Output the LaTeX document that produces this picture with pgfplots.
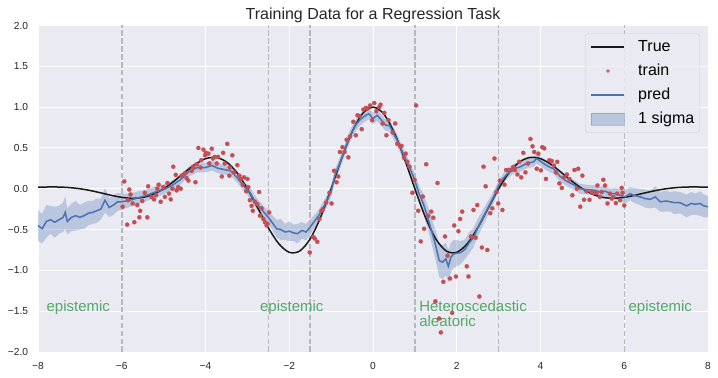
\documentclass[border=0pt]{standalone}
\usepackage{fontspec}
\setmainfont{Liberation Sans}
\usepackage{pgfplots}
\usepackage{pgfplotstable}
\pgfplotsset{compat=1.18}
\usepgfplotslibrary{fillbetween}
\definecolor{sbblue}{HTML}{4C72B0}
\definecolor{sbred}{HTML}{C44E52}
\definecolor{sbgreen}{HTML}{55A868}
\definecolor{sbbg}{HTML}{EAEAF2}
\definecolor{dashgray}{HTML}{B8B8BC}

\pgfplotsset{
  legline/.style={legend image code/.code={\path[draw=none,fill=none] (0bp,-6bp) rectangle (33bp,6bp); \draw[##1] (0bp,0bp) -- (33bp,0bp);}},
  legdot/.style={legend image code/.code={\path[draw=none,fill=none] (0bp,-6bp) rectangle (33bp,6bp); \draw[##1] plot coordinates {(16.5bp,0bp)};}},
  legbox/.style={legend image code/.code={\path[draw=none,fill=none] (0bp,-6bp) rectangle (33bp,6bp); \draw[##1, sharp corners] (0bp,-6.2bp) rectangle (33bp,6.2bp);}},
}

\pgfplotstableread{
x y lo hi
-8.0 -0.45 -0.64 -0.26
-7.9 -0.49 -0.67 -0.31
-7.8 -0.40 -0.60 -0.20
-7.7 -0.38 -0.55 -0.21
-7.6 -0.41 -0.60 -0.22
-7.5 -0.38 -0.55 -0.21
-7.4 -0.35 -0.53 -0.17
-7.35 -0.29 -0.49 -0.09
-7.3 -0.40 -0.56 -0.24
-7.2 -0.35 -0.52 -0.18
-7.1 -0.33 -0.51 -0.15
-7.0 -0.35 -0.50 -0.20
-6.9 -0.33 -0.49 -0.17
-6.8 -0.30 -0.45 -0.15
-6.7 -0.29 -0.43 -0.15
-6.6 -0.27 -0.42 -0.12
-6.5 -0.25 -0.38 -0.12
-6.4 -0.14 -0.29 0.01
-6.3 -0.23 -0.35 -0.11
-6.2 -0.20 -0.32 -0.08
-6.1 -0.16 -0.27 -0.05
-6.0 -0.16 -0.26 -0.06
-5.9 -0.15 -0.24 -0.06
-5.8 -0.14 -0.22 -0.06
-5.6 -0.11 -0.19 -0.03
-5.4 -0.08 -0.15 -0.01
-5.2 -0.04 -0.11 0.03
-5.0 -0.01 -0.07 0.05
-4.8 0.04 -0.02 0.10
-4.6 0.11 0.05 0.17
-4.4 0.21 0.15 0.27
-4.2 0.26 0.20 0.32
-4.0 0.26 0.20 0.32
-3.85 0.285 0.225 0.345
-3.7 0.25 0.19 0.31
-3.5 0.23 0.17 0.29
-3.4 0.22 0.16 0.28
-3.25 0.14 0.08 0.20
-3.1 0.04 -0.02 0.10
-2.95 -0.04 -0.11 0.03
-2.8 -0.17 -0.24 -0.10
-2.65 -0.26 -0.33 -0.19
-2.5 -0.35 -0.43 -0.27
-2.4 -0.42 -0.51 -0.33
-2.3 -0.49 -0.60 -0.38
-2.2 -0.50 -0.63 -0.37
-2.1 -0.53 -0.63 -0.43
-2.0 -0.52 -0.64 -0.40
-1.9 -0.54 -0.64 -0.44
-1.8 -0.55 -0.67 -0.43
-1.7 -0.51 -0.61 -0.41
-1.6 -0.53 -0.63 -0.43
-1.5 -0.47 -0.56 -0.38
-1.4 -0.40 -0.48 -0.32
-1.3 -0.33 -0.40 -0.26
-1.2 -0.24 -0.31 -0.17
-1.1 -0.15 -0.22 -0.08
-1.0 -0.03 -0.10 0.04
-0.9 0.18 0.11 0.25
-0.8 0.30 0.23 0.37
-0.7 0.44 0.37 0.51
-0.6 0.58 0.51 0.65
-0.5 0.70 0.63 0.77
-0.4 0.79 0.72 0.86
-0.3 0.85 0.78 0.92
-0.2 0.89 0.82 0.96
-0.1 0.92 0.85 0.99
0.0 0.86 0.79 0.93
0.1 0.90 0.83 0.97
0.2 0.84 0.77 0.91
0.3 0.78 0.71 0.85
0.4 0.77 0.70 0.84
0.5 0.67 0.60 0.74
0.6 0.57 0.50 0.64
0.7 0.45 0.38 0.52
0.8 0.34 0.27 0.41
0.9 0.23 0.16 0.30
1.0 0.10 0.02 0.18
1.1 -0.06 -0.16 0.04
1.2 -0.18 -0.30 -0.06
1.3 -0.34 -0.48 -0.20
1.4 -0.52 -0.68 -0.36
1.5 -0.70 -0.88 -0.52
1.58 -0.88 -1.08 -0.68
1.66 -0.90 -1.11 -0.69
1.74 -0.86 -1.06 -0.66
1.8 -0.95 -1.15 -0.75
1.86 -0.84 -1.02 -0.66
1.92 -0.80 -0.97 -0.63
2.0 -0.79 -0.95 -0.63
2.1 -0.78 -0.92 -0.64
2.2 -0.74 -0.86 -0.62
2.3 -0.66 -0.79 -0.53
2.4 -0.60 -0.72 -0.48
2.5 -0.48 -0.59 -0.37
2.6 -0.38 -0.48 -0.28
2.7 -0.28 -0.37 -0.19
2.8 -0.18 -0.26 -0.10
2.9 -0.08 -0.15 -0.01
3.0 0.04 -0.02 0.10
3.1 0.12 0.06 0.18
3.2 0.18 0.12 0.24
3.35 0.245 0.185 0.305
3.5 0.265 0.205 0.325
3.67 0.31 0.25 0.37
3.83 0.33 0.27 0.39
3.91 0.37 0.31 0.43
4.07 0.31 0.25 0.37
4.2 0.27 0.21 0.33
4.31 0.245 0.185 0.305
4.47 0.15 0.09 0.21
4.6 0.10 0.04 0.16
4.79 0.05 -0.01 0.11
4.94 0.00 -0.06 0.06
5.1 -0.01 -0.07 0.05
5.3 -0.02 -0.08 0.04
5.42 -0.04 -0.10 0.02
5.55 -0.03 -0.10 0.04
5.66 -0.06 -0.12 0.00
5.8 -0.06 -0.13 0.01
5.9 -0.08 -0.15 -0.01
6.02 -0.10 -0.18 -0.02
6.14 -0.06 -0.14 0.02
6.22 -0.08 -0.17 0.01
6.38 -0.10 -0.20 0.00
6.5 -0.12 -0.23 -0.01
6.62 -0.13 -0.24 -0.02
6.74 -0.10 -0.23 0.03
6.86 -0.16 -0.28 -0.04
7.0 -0.15 -0.28 -0.02
7.1 -0.16 -0.28 -0.04
7.2 -0.17 -0.31 -0.03
7.33 -0.17 -0.30 -0.04
7.49 -0.21 -0.35 -0.07
7.6 -0.18 -0.32 -0.04
7.7 -0.19 -0.32 -0.06
7.81 -0.18 -0.33 -0.03
7.9 -0.21 -0.35 -0.07
8.0 -0.22 -0.35 -0.09
}\pred

\pgfplotstableread{
x y
-5.94 0.09
-5.98 -0.22
-5.87 -0.44
-5.85 -0.14
-5.82 -0.01
-5.79 -0.07
-5.74 -0.18
-5.70 -0.41
-5.63 -0.20
-5.58 -0.35
-5.56 -0.27
-5.51 -0.15
-5.45 -0.05
-5.39 -0.35
-5.37 0.03
-5.29 -0.10
-5.23 -0.13
-5.18 -0.08
-5.15 0.00
-5.12 0.05
-5.07 -0.16
-5.01 0.02
-4.97 -0.10
-4.91 0.07
-4.87 -0.06
-4.83 -0.13
-4.79 0.00
-4.77 0.27
-4.71 0.17
-4.69 -0.02
-4.65 0.02
-4.59 0.00
-4.57 0.16
-4.49 0.19
-4.45 0.13
-4.41 0.10
-4.33 0.22
-4.30 0.27
-4.24 0.08
-4.21 0.30
-4.17 0.50
-4.12 0.26
-4.10 0.35
-4.05 0.48
-4.01 0.41
-3.99 0.44
-3.93 0.43
-3.91 0.31
-3.85 0.49
-3.82 0.37
-3.78 0.39
-3.73 0.31
-3.70 0.39
-3.61 0.15
-3.58 0.44
-3.54 0.31
-3.48 0.55
-3.43 0.16
-3.42 0.26
-3.36 0.41
-3.32 0.20
-3.24 0.29
-3.19 0.16
-3.16 0.12
-3.11 0.05
-3.08 0.14
-3.03 -0.03
-3.00 0.12
-2.98 0.02
-2.94 -0.14
-2.90 -0.21
-2.87 -0.27
-2.82 -0.16
-2.76 -0.19
-2.72 -0.04
-2.70 -0.33
-2.66 -0.24
-2.62 -0.37
-2.58 -0.41
-2.54 -0.45
-2.52 -0.43
-2.48 -0.29
-1.51 -0.78
-1.43 -0.59
-1.39 -0.61
-1.33 -0.65
-1.28 -0.37
-1.23 -0.27
-1.20 -0.25
-1.12 -0.17
-1.04 -0.05
-0.99 -0.18
-0.93 0.22
-0.87 0.08
-0.83 0.15
-0.79 0.45
-0.73 0.51
-0.68 0.45
-0.63 0.60
-0.59 0.385
-0.55 0.64
-0.47 0.82
-0.41 0.655
-0.37 0.90
-0.32 0.89
-0.27 0.73
-0.23 0.97
-0.17 0.99
-0.14 0.98
-0.07 1.02
-0.02 0.84
0.03 1.05
0.08 0.95
0.15 1.00
0.18 1.03
0.23 0.80
0.27 0.93
0.32 0.655
0.37 0.84
0.47 0.69
0.53 0.80
0.58 0.55
0.65 0.52
0.68 0.525
0.74 0.38
0.78 0.43
0.82 0.33
0.87 0.27
0.94 -0.05
0.99 0.11
1.03 1.02
1.08 -0.27
1.14 -0.645
1.19 -0.095
1.22 -0.49
1.27 0.30
1.32 -0.33
1.39 -0.28
1.44 -0.355
1.49 -1.38
1.54 0.07
1.58 -1.59
1.62 -1.76
1.68 -1.14
1.72 -0.585
1.78 -0.82
1.84 -1.10
1.89 -1.52
1.94 -0.45
1.98 -1.075
2.04 -0.52
2.08 -0.37
2.13 -0.28
2.24 -0.95
2.28 -1.075
2.34 -0.585
2.40 -0.26
2.45 -0.60
2.49 -0.20
2.54 -1.32
2.60 -0.72
2.64 0.27
2.69 0.03
2.73 -0.75
2.80 -0.30
2.85 -0.24
2.90 0.37
2.95 -0.04
2.99 -0.18
3.03 0.10
3.09 -0.26
3.14 0.05
3.18 0.23
3.23 0.23
3.30 0.23
3.35 0.265
3.39 0.23
3.45 0.175
3.49 0.33
3.54 0.14
3.59 0.44
3.64 0.20
3.70 0.31
3.76 0.61
3.81 0.52
3.85 0.45
3.91 0.245
3.95 0.43
4.01 0.225
4.04 0.51
4.09 0.495
4.13 0.12
4.21 0.35
4.27 0.34
4.32 0.285
4.37 0.20
4.40 0.33
4.45 0.065
4.51 0.01
4.56 0.14
4.63 0.175
4.69 0.12
4.76 -0.08
4.81 0.23
4.87 0.00
4.90 0.245
4.95 -0.22
5.00 0.16
5.04 -0.135
5.10 -0.03
5.17 -0.135
5.22 -0.04
5.27 -0.05
5.34 -0.055
5.36 0.04
5.42 -0.10
5.46 -0.04
5.50 0.11
5.54 0.04
5.60 -0.18
5.66 -0.06
5.70 -0.12
5.74 -0.10
5.80 -0.175
5.83 -0.06
5.90 -0.14
5.94 0.01
5.96 -0.05
6.00 -0.205
}\train

\begin{document}
\begin{tikzpicture}
\begin{axis}[
  scale only axis, width=670bp, height=326.5bp,
  xmin=-8, xmax=8, ymin=-2, ymax=2,
  axis background/.style={fill=sbbg},
  axis line style={draw=none},
  grid=major, major grid style={white, line width=1bp},
  tick style={draw=none},
  xtick={-8,-6,-4,-2,0,2,4,6,8},
  xticklabels={−8,−6,−4,−2,0,2,4,6,8},
  ytick={-2,-1.5,-1,-0.5,0,0.5,1,1.5,2},
  yticklabels={−2.0,−1.5,−1.0,−0.5,0.0,0.5,1.0,1.5,2.0},
  tick label style={font=\fontsize{10.2bp}{12bp}\selectfont, text=black!85},
  xticklabel style={anchor=base, inner sep=0pt, yshift=-17.5bp},
  yticklabel style={anchor=east, inner sep=0pt, xshift=-9.7bp},
  title={Training Data for a Regression Task},
  title style={font=\fontsize{16bp}{19bp}\selectfont, text=black!85, at={(0.5,1)}, anchor=base, inner sep=0pt, yshift=0.5bp},
  legend style={
    at={(rel axis cs:0.988,0.976)}, anchor=north east,
    fill=sbbg, fill opacity=0.8, text opacity=1, draw=black!20, rounded corners=3bp,
    font=\fontsize{16bp}{19bp}\selectfont,
    inner xsep=5.5bp, inner ysep=5.5bp,
    row sep=8bp,
    nodes={inner sep=0pt, text height=12bp, text depth=4bp},
    /tikz/every odd column/.append style={column sep=13bp},
  },
  legend cell align=left,
]
% band
\addplot[name path=hi, draw=none, forget plot] table[x=x,y=hi]{\pred};
\addplot[name path=lo, draw=none, forget plot] table[x=x,y=lo]{\pred};
\addplot[fill=sbblue, fill opacity=0.3, draw=none, forget plot] fill between[of=hi and lo];
% dashed region borders
\addplot[dashgray, line width=1.5bp, dash pattern=on 5.5bp off 2.4bp, forget plot] coordinates {(-6,-2) (-6,2)};
\addplot[dashgray, line width=1.5bp, dash pattern=on 5.5bp off 2.4bp, forget plot] coordinates {(-2.5,-2) (-2.5,2)};
\addplot[dashgray, line width=1.5bp, dash pattern=on 5.5bp off 2.4bp, forget plot] coordinates {(-1.5,-2) (-1.5,2)};
\addplot[dashgray, line width=1.5bp, dash pattern=on 5.5bp off 2.4bp, forget plot] coordinates {(1,-2) (1,2)};
\addplot[dashgray, line width=1.5bp, dash pattern=on 5.5bp off 2.4bp, forget plot] coordinates {(3,-2) (3,2)};
\addplot[dashgray, line width=1.5bp, dash pattern=on 5.5bp off 2.4bp, forget plot] coordinates {(6,-2) (6,2)};
% true function
\addplot[black!90, line width=1.5bp, smooth, forget plot] coordinates {
(-8,0.0183) (-7.75,0.0217) (-7.5,0.0210) (-7.25,0.0143) (-7,0) (-6.75,-0.0222)
(-6.5,-0.0504) (-6.25,-0.0804) (-6,-0.1054) (-5.75,-0.1170) (-5.5,-0.1068)
(-5.25,-0.0684) (-5,0) (-4.75,0.0934) (-4.5,0.1995) (-4.25,0.2988) (-4,0.3679)
(-3.75,0.3836) (-3.5,0.3288) (-3.25,0.1978) (-3,0) (-2.75,-0.2385) (-2.5,-0.4785)
(-2.25,-0.6733) (-2,-0.7788) (-1.75,-0.7629) (-1.5,-0.6144) (-1.25,-0.3471)
(-1,0) (-0.75,0.3695) (-0.5,0.6962) (-0.25,0.9203) (0,1)
(0.25,0.9203) (0.5,0.6962) (0.75,0.3695) (1,0) (1.25,-0.3471) (1.5,-0.6144)
(1.75,-0.7629) (2,-0.7788) (2.25,-0.6733) (2.5,-0.4785) (2.75,-0.2385) (3,0)
(3.25,0.1978) (3.5,0.3288) (3.75,0.3836) (4,0.3679) (4.25,0.2988) (4.5,0.1995)
(4.75,0.0934) (5,0) (5.25,-0.0684) (5.5,-0.1068) (5.75,-0.1170) (6,-0.1054)
(6.25,-0.0804) (6.5,-0.0504) (6.75,-0.0222) (7,0) (7.25,0.0143) (7.5,0.0210)
(7.75,0.0217) (8,0.0183)};
% training points
\addplot[only marks, color=sbred, mark=*, mark size=2.1bp, mark options={solid, fill=sbred, draw=sbred, line width=0.2bp}, forget plot] table[x=x,y=y]{\train};
% prediction
\addplot[sbblue, line width=1.5bp, forget plot] table[x=x,y=y]{\pred};
% annotations
\node[anchor=base west, inner sep=0pt, text=sbgreen, font=\fontsize{15bp}{18bp}\selectfont] at (axis cs:-7.8,-1.5) {epistemic};
\node[anchor=base west, inner sep=0pt, text=sbgreen, font=\fontsize{15bp}{18bp}\selectfont] at (axis cs:-2.7,-1.5) {epistemic};
\node[anchor=base west, inner sep=0pt, text=sbgreen, font=\fontsize{15bp}{18bp}\selectfont] at (axis cs:1.1,-1.5) {Heteroscedastic};
\node[anchor=base west, inner sep=0pt, text=sbgreen, font=\fontsize{15bp}{18bp}\selectfont, yshift=-15.5bp] at (axis cs:1.1,-1.5) {aleatoric};
\node[anchor=base west, inner sep=0pt, text=sbgreen, font=\fontsize{15bp}{18bp}\selectfont] at (axis cs:6.1,-1.5) {epistemic};
% legend
\addlegendimage{legline, black!90, line width=1.5bp}
\addlegendentry{True}
\addlegendimage{legdot, only marks, color=sbred, mark=*, mark size=1.7bp, mark options={solid, fill=sbred, draw=sbred, line width=0.2bp}}
\addlegendentry{train}
\addlegendimage{legline, sbblue, line width=1.5bp}
\addlegendentry{pred}
\addlegendimage{legbox, fill=sbblue, fill opacity=0.3, draw=sbblue, draw opacity=0.35}
\addlegendentry{1 sigma}
\end{axis}
\pgfresetboundingbox
\path (current axis.south west) ++(-38bp,-26bp) rectangle ++(718bp,378bp);
\end{tikzpicture}
\end{document}
